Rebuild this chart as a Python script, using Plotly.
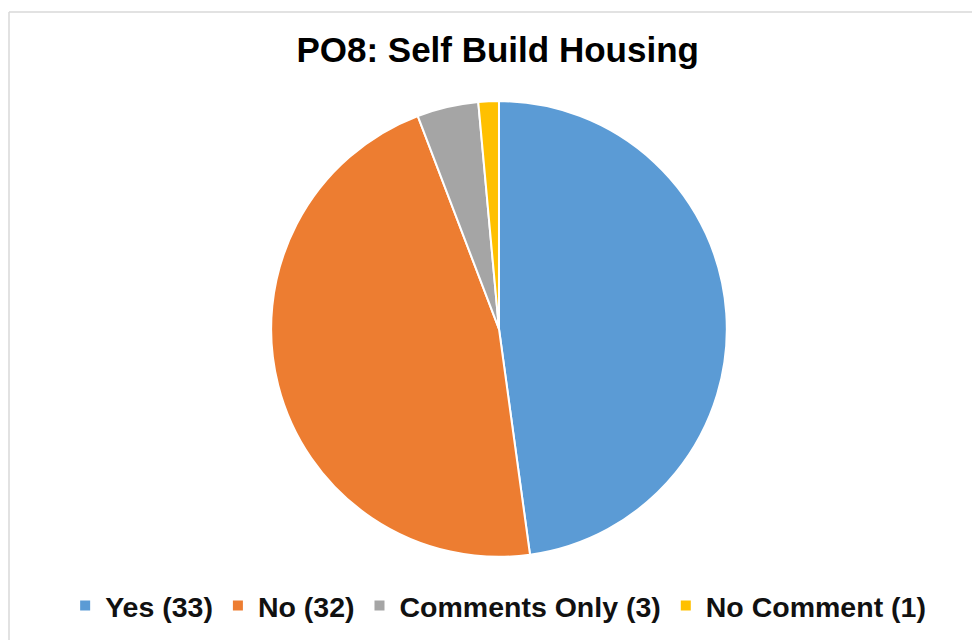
import plotly.graph_objects as go

labels = ["Yes (33)", "No (32)", "Comments Only (3)", "No Comment (1)"]
values = [33, 32, 3, 1]
colors = ["#5B9BD5", "#ED7D31", "#A5A5A5", "#FFC000"]
title_text = "PO8: Self Build Housing"

fig = go.Figure(go.Pie(
    labels=labels, values=values, sort=False, direction="clockwise", rotation=0,
    marker=dict(colors=colors, line=dict(color="white", width=2)),
    textinfo="none", hoverinfo="label+value",
    domain=dict(x=[0.2788, 0.7479], y=[0.130, 0.842]),
))

fig.update_layout(
    width=972, height=640,
    margin=dict(l=0, r=0, t=0, b=0),
    paper_bgcolor="white", plot_bgcolor="white",
    font=dict(family="Liberation Sans, Arial, sans-serif", color="#000000"),
    title=dict(text="<b>" + title_text + "</b>", x=0.512, xanchor="center",
               y=0.922, yanchor="middle", font=dict(size=35, color="#000000")),
    legend=dict(orientation="h", x=0.5125, xanchor="center", y=0.053, yanchor="middle",
                font=dict(size=28.5, color="#111111", weight="bold"), traceorder="normal"),
    shapes=[
        dict(type="line", xref="paper", yref="paper", x0=9/972, x1=1.0, y0=1-12/640, y1=1-12/640,
             line=dict(color="#D9D9D9", width=1.5)),
        dict(type="line", xref="paper", yref="paper", x0=9/972, x1=9/972, y0=0, y1=1-12/640,
             line=dict(color="#D9D9D9", width=1.5)),
    ],
)

fig.write_html("out.html", config={"displayModeBar": False},
               post_script="document.body.style.margin='0';")
